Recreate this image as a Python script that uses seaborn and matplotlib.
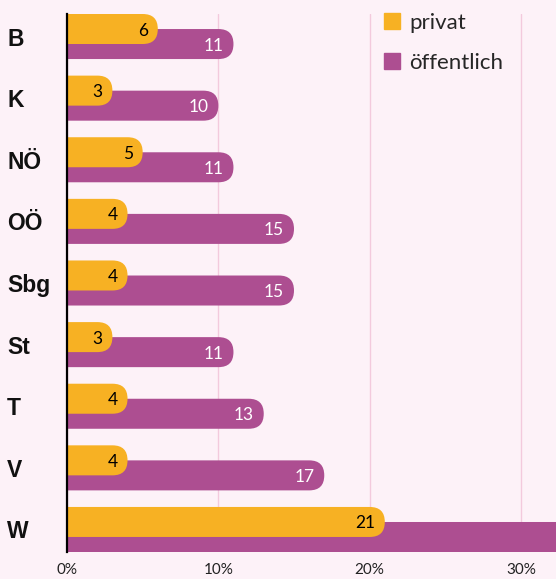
import numpy as np
import pandas as pd
import seaborn as sns
import matplotlib.pyplot as plt
from matplotlib.patches import FancyBboxPatch, Patch

# data (Anteil in %)
regions = ["B", "K", "NÖ", "OÖ", "Sbg", "St", "T", "V", "W"]
privat = [6, 3, 5, 4, 4, 3, 4, 4, 21]
oeffentlich = [11, 10, 11, 15, 15, 11, 13, 17, 37]  # W runs off the chart
xticks = [0, 10, 20, 30]
xtick_labels = ["0%", "10%", "20%", "30%"]

orange = "#F7B123"
purple = "#AD4E91"
bg = "#FDF2F8"
grid_col = "#F3CADD"

sns.set_style("white")
plt.rcParams["font.family"] = ["Lato", "DejaVu Sans"]

W, H = 556, 579
fig = plt.figure(figsize=(W / 100, H / 100), dpi=100, facecolor=bg)
ax = fig.add_axes([67 / W, 1 - 552 / H, 1 - 67 / W, 538 / H])
ax.set_facecolor(bg)

df = pd.DataFrame({"region": regions, "privat": privat, "oeffentlich": oeffentlich})

bar_h = 0.487
shift = 0.122
sns.barplot(data=df, x="oeffentlich", y="region", orient="h", color=purple,
            saturation=1, width=bar_h, errorbar=None, ax=ax)
sns.barplot(data=df, x="privat", y="region", orient="h", color=orange,
            saturation=1, width=bar_h, errorbar=None, ax=ax)

xmax = (W - 67) / ((521 - 67) / 30)
ax.set_xlim(0, xmax)
ylo, yhi = 8 + shift + bar_h / 2, -shift - bar_h / 2
ax.set_ylim(ylo, yhi)

# pixels per data unit, used to make round ends
px_x = ax.get_position().width * W / xmax
px_y = ax.get_position().height * H / (ylo - yhi)

for cont, dy, col, zo in [(ax.containers[0], shift, purple, 2),
                          (ax.containers[1], -shift, orange, 3)]:
    for rect in cont:
        x, y, w, h = rect.get_x(), rect.get_y(), rect.get_width(), rect.get_height()
        rect.set_visible(False)
        r = (h / 2) * px_y / px_x
        box = FancyBboxPatch((x - r, y + dy), w + r, h,
                             boxstyle=f"round,pad=0,rounding_size={r}",
                             mutation_aspect=(h / 2) / r,
                             fc=col, ec="none", zorder=zo)
        ax.add_patch(box)

off = 10 / px_x
for i, (p, o) in enumerate(zip(privat, oeffentlich)):
    ax.text(p - off, i - shift, str(p), ha="right", va="center_baseline",
            color="black", fontsize=12.5, zorder=4)
    if o < xmax:  # the W label sits off the visible area
        ax.text(o - off, i + shift, str(o), ha="right", va="center_baseline",
                color="white", fontsize=12.5, zorder=4)

ax.set_xlabel("")
ax.set_ylabel("")
ax.set_xticks(xticks)
ax.set_xticklabels(xtick_labels, fontsize=11, color="#222222")
ax.set_yticks(range(len(regions)))
ax.set_yticklabels(regions, fontsize=16.5, fontweight="bold", ha="left",
                   family=["Liberation Sans", "DejaVu Sans"], color="#111111")
ax.tick_params(axis="x", length=0, pad=8)
ax.tick_params(axis="y", length=0, pad=60 / 1.389)

ax.grid(axis="x", color=grid_col, lw=1)
ax.grid(axis="y", visible=False)
ax.set_axisbelow(True)

for s in ["top", "right", "bottom"]:
    ax.spines[s].set_visible(False)
ax.spines["left"].set_color("black")
ax.spines["left"].set_linewidth(1.6)
ax.spines["left"].set_zorder(5)

handles = [Patch(color=orange, label="privat"), Patch(color=purple, label="öffentlich")]
ax.legend(handles=handles, loc="upper left", bbox_to_anchor=(384 / W, 1 - 13 / H),
          bbox_transform=fig.transFigure, frameon=False, fontsize=16,
          handlelength=0.72, handleheight=0.72, handletextpad=0.4,
          labelspacing=0.9, borderpad=0, borderaxespad=0)

fig.savefig("out.png", dpi=100, facecolor=bg)
